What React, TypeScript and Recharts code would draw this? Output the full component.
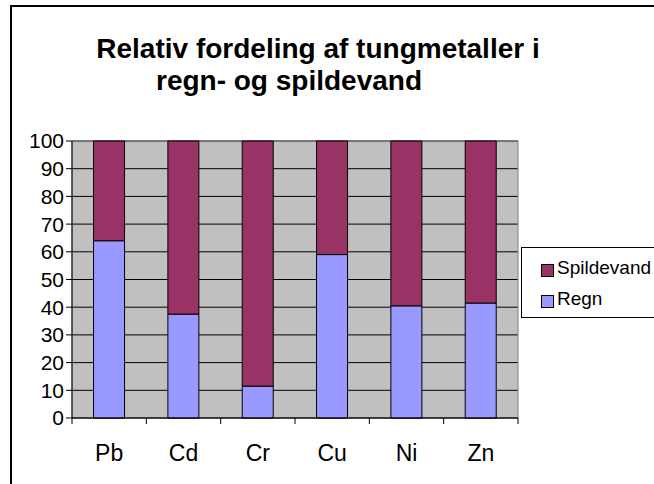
import React from "react";
import { BarChart, Bar, XAxis, YAxis, CartesianGrid, Legend, ReferenceArea } from "recharts";

const metals = ["Pb", "Cd", "Cr", "Cu", "Ni", "Zn"];
const regn = [64, 37.5, 11.5, 59, 40.5, 41.5];
const spildevand = [36, 62.5, 88.5, 41, 59.5, 58.5];
const yTicks = [0, 10, 20, 30, 40, 50, 60, 70, 80, 90, 100];

const data = metals.map((m, i) => ({ metal: m, Regn: regn[i], Spildevand: spildevand[i] }));

const FONT = "'Liberation Sans', Arial, sans-serif";
const W = 654;
const H = 484;
const M = { top: 141, right: 136, bottom: 36, left: 0 };
const Y_AXIS_W = 72;
const PLOT_W = W - M.left - M.right - Y_AXIS_W;
const HALF_BAND = PLOT_W / metals.length / 2;

const COLORS = { Spildevand: "#993366", Regn: "#9999FF" };

// tick marks sit between the categories, like the old Excel chart
function MetalTick(props: any) {
  const { x, y, payload, index } = props;
  const last = index === metals.length - 1;
  return (
    <g>
      <line x1={x - HALF_BAND} x2={x - HALF_BAND} y1={y - 8} y2={y - 2} stroke="#000" />
      {last && <line x1={x + HALF_BAND} x2={x + HALF_BAND} y1={y - 8} y2={y - 2} stroke="#000" />}
      <text x={x} y={y + 35} textAnchor="middle" fontSize={23} fontFamily={FONT} fill="#000">
        {payload.value}
      </text>
    </g>
  );
}

function LegendBox() {
  const items = [
    { name: "Spildevand", color: COLORS.Spildevand },
    { name: "Regn", color: COLORS.Regn },
  ];
  return (
    <div style={{ width: 140, height: 71, border: "1px solid #000", boxSizing: "border-box", background: "#fff", paddingTop: 4 }}>
      {items.map((it) => (
        <div key={it.name} style={{ display: "flex", alignItems: "center", height: 31, paddingLeft: 19, fontFamily: FONT, fontSize: 19 }}>
          <span style={{ display: "inline-block", width: 11, height: 11, background: it.color, border: "1px solid #000", marginRight: 3, marginTop: 6 }} />
          <span>{it.name}</span>
        </div>
      ))}
    </div>
  );
}

export default function App() {
  return (
    <div style={{ position: "absolute", left: 0, top: 0, width: W, height: H, background: "#fff", overflow: "hidden" }}>
      <div style={{ position: "absolute", left: 10, top: 5, width: W, height: H, borderLeft: "2px solid #000", borderTop: "2px solid #000" }} />
      <BarChart width={W} height={H} data={data} margin={M} barCategoryGap="29%">
        <text x={318} y={58} textAnchor="middle" fontSize={28} fontWeight="bold" fontFamily={FONT} fill="#000">
          Relativ fordeling af tungmetaller i
        </text>
        <text x={289} y={90} textAnchor="middle" fontSize={28} fontWeight="bold" fontFamily={FONT} fill="#000">
          regn- og spildevand
        </text>
        <CartesianGrid vertical={false} fill="#C0C0C0" stroke="#000" strokeOpacity={1} />
        <ReferenceArea y1={0} y2={100} fill="none" stroke="#808080" />
        <XAxis
          dataKey="metal"
          axisLine={{ stroke: "#000" }}
          tickLine={false}
          height={30}
          interval={0}
          tick={<MetalTick />}
        />
        <YAxis
          domain={[0, 100]}
          ticks={yTicks}
          interval={0}
          width={Y_AXIS_W}
          axisLine={{ stroke: "#000" }}
          tickLine={{ stroke: "#000" }}
          tickSize={6}
          tickMargin={2}
          tick={{ fontSize: 21, fontFamily: FONT, fill: "#000" }}
        />
        <Legend
          layout="vertical"
          verticalAlign="middle"
          align="center"
          content={<LegendBox />}
          wrapperStyle={{ left: 521, top: 247, width: 140 }}
        />
        <Bar dataKey="Regn" stackId="a" fill={COLORS.Regn} stroke="#000" isAnimationActive={false} />
        <Bar dataKey="Spildevand" stackId="a" fill={COLORS.Spildevand} stroke="#000" isAnimationActive={false} />
      </BarChart>
    </div>
  );
}
